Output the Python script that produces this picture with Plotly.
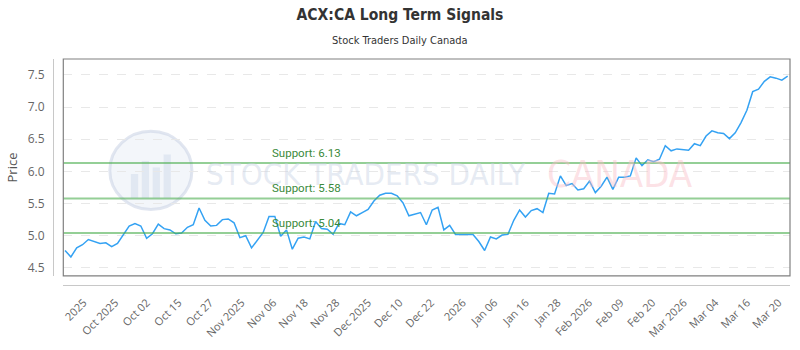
import plotly.graph_objects as go

# ---- data ----
prices = [4.77, 4.67, 4.81, 4.86, 4.94, 4.91, 4.88, 4.89, 4.83, 4.88,
          5.02, 5.15, 5.19, 5.15, 4.96, 5.03, 5.18, 5.11, 5.09, 5.03,
          5.04, 5.13, 5.17, 5.43, 5.24, 5.15, 5.16, 5.25, 5.26, 5.20,
          4.97, 5.00, 4.81, 4.93, 5.05, 5.30, 5.30, 4.99, 5.09, 4.79,
          4.96, 4.98, 4.95, 5.22, 5.11, 5.10, 5.02, 5.19, 5.17, 5.37,
          5.31, 5.36, 5.41, 5.54, 5.63, 5.66, 5.66, 5.62, 5.51, 5.31,
          5.34, 5.36, 5.17, 5.40, 5.44, 5.09, 5.16, 5.02, 5.02, 5.02,
          5.02, 4.91, 4.77, 4.98, 4.95, 5.01, 5.02, 5.24, 5.40, 5.29,
          5.39, 5.42, 5.36, 5.66, 5.65, 5.93, 5.78, 5.81, 5.71, 5.73,
          5.85, 5.67, 5.77, 5.91, 5.72, 5.91, 5.91, 5.93, 6.21, 6.09,
          6.18, 6.15, 6.19, 6.40, 6.32, 6.35, 6.34, 6.33, 6.43, 6.40,
          6.55, 6.63, 6.60, 6.59, 6.51, 6.60, 6.76, 6.95, 7.24, 7.28,
          7.40, 7.47, 7.45, 7.42, 7.48]
x_index = list(range(len(prices)))

tick_labels = ["2025", "Oct 2025", "Oct 02", "Oct 15", "Oct 27", "Nov 2025",
               "Nov 06", "Nov 18", "Nov 28", "Dec 2025", "Dec 10", "Dec 22",
               "2026", "Jan 06", "Jan 16", "Jan 28", "Feb 2026", "Feb 09",
               "Feb 20", "Mar 2026", "Mar 04", "Mar 16", "Mar 20"]

support_levels = [6.13, 5.58, 5.04]
support_labels = ["Support: 6.13", "Support: 5.58", "Support: 5.04"]

# evenly spaced label positions along the index axis
tick_start, tick_step = 3.2, 5.42
tick_vals = [tick_start + tick_step * k for k in range(len(tick_labels))]

LINE_BLUE = "#34a2f3"
SUP_LINE = "rgba(76,175,80,0.6)"
SUP_TEXT = "#3a8a3a"
GRAY = "#666666"
NARROW = "DejaVu Sans Condensed, Liberation Sans Narrow, Roboto"

fig = go.Figure()
fig.add_trace(go.Scatter(x=x_index, y=prices, mode="lines",
                         line=dict(color=LINE_BLUE, width=1.5),
                         hoverinfo="x+y", showlegend=False))

shapes = []
annotations = []

# watermark (logo circle + text)
shapes.append(dict(type="circle", xref="x domain", yref="y domain",
                   x0=0.064, x1=0.177, y0=0.306, y1=0.667,
                   line=dict(color="rgba(200,210,228,0.55)", width=3),
                   fillcolor="rgba(220,228,240,0.35)", layer="below"))
for bx0, bx1, by1 in [(0.093, 0.103, 0.47), (0.108, 0.118, 0.53),
                      (0.123, 0.133, 0.50), (0.138, 0.148, 0.56)]:
    shapes.append(dict(type="rect", xref="x domain", yref="y domain",
                       x0=bx0, x1=bx1, y0=0.36, y1=by1, line=dict(width=0),
                       fillcolor="rgba(205,215,232,0.45)", layer="below"))
annotations.append(dict(text="STOCK TRADERS DAILY", xref="x domain", yref="y domain",
                        x=0.193, y=0.47, xanchor="left", yanchor="middle",
                        showarrow=False,
                        font=dict(family=NARROW, size=31, color="rgba(200,210,228,0.45)")))
annotations.append(dict(text="CANADA", xref="x domain", yref="y domain",
                        x=0.663, y=0.47, xanchor="left", yanchor="middle",
                        showarrow=False,
                        font=dict(family=NARROW, size=38, color="rgba(250,190,198,0.45)")))

# support lines
for lvl, lab in zip(support_levels, support_labels):
    shapes.append(dict(type="line", xref="x domain", yref="y",
                       x0=0, x1=1, y0=lvl, y1=lvl,
                       line=dict(color=SUP_LINE, width=2)))
    annotations.append(dict(text=lab, xref="x domain", yref="y",
                            x=0.284, y=lvl, xanchor="left", yanchor="bottom",
                            yshift=1, showarrow=False,
                            font=dict(family="Roboto", size=11.5, color=SUP_TEXT)))

# plot frame
shapes.append(dict(type="rect", xref="x domain", yref="y domain",
                   x0=0, x1=1, y0=0, y1=1,
                   line=dict(color="#808080", width=1.2)))

# subtitle
annotations.append(dict(text="Stock Traders Daily Canada", xref="paper", yref="paper",
                        x=(400 - 53) / 737, y=1.08, xanchor="center", yanchor="middle",
                        showarrow=False,
                        font=dict(family=NARROW, size=11, color="#333333")))

fig.update_layout(
    width=800, height=350,
    margin=dict(l=53, r=10, t=59, b=54),
    paper_bgcolor="white", plot_bgcolor="white",
    title=dict(text="<b>ACX:CA Long Term Signals</b>", x=0.5, xref="container",
               y=1 - 15 / 350, yref="container", xanchor="center", yanchor="middle",
               font=dict(family=NARROW, size=15.5, color="#333333")),
    xaxis=dict(domain=[(63.3 - 53) / 737, 1], anchor="free", position=0,
               range=[-0.3, 124.4], tickmode="array", tickvals=tick_vals,
               ticktext=tick_labels, tickangle=-45, showgrid=False, zeroline=False,
               showline=True, linecolor="#c8c8c8", linewidth=1,
               ticks="", ticklabelstandoff=6,
               tickfont=dict(family="Open Sans", size=11, color=GRAY)),
    yaxis=dict(domain=[(296 - 286.5) / 237, 1], anchor="free", position=0,
               range=[4.374, 7.748], tickmode="array",
               tickvals=[4.5, 5.0, 5.5, 6.0, 6.5, 7.0, 7.5],
               ticktext=["4.5", "5.0", "5.5", "6.0", "6.5", "7.0", "7.5"],
               showgrid=True, gridcolor="#e8e8e8", griddash="dash", gridwidth=1,
               zeroline=False, showline=True, linecolor="#c8c8c8", linewidth=1,
               ticks="", ticklabelstandoff=6,
               tickfont=dict(family="Open Sans", size=12, color=GRAY),
               title=dict(text="Price", standoff=6,
                          font=dict(family="Open Sans", size=13, color="#555555"))),
    shapes=shapes,
    annotations=annotations,
)

fig.write_html("out.html")
